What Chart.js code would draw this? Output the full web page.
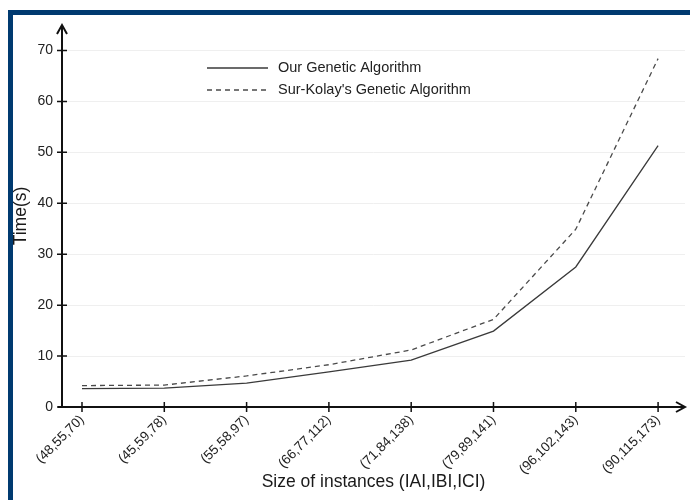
<!DOCTYPE html>
<html>
<head>
<meta charset="utf-8">
<script src="https://cdn.jsdelivr.net/npm/chart.js@4.4.0/dist/chart.umd.min.js"></script>
<style>
  html, body { margin: 0; padding: 0; background: #fff; }
  #wrap { position: relative; width: 690px; height: 500px; }
  #frame {
    position: absolute; left: 8px; top: 10px; right: 0; bottom: 0;
    border-left: 5px solid #003a70; border-top: 5px solid #003a70;
    pointer-events: none;
  }
</style>
</head>
<body>
<div id="wrap">
  <canvas id="chart" width="690" height="500"></canvas>
  <div id="frame"></div>
</div>
<script>
// instance sizes (|A|,|B|,|C|)
const instanceLabels = ['(48,55,70)', '(45,59,78)', '(55,58,97)', '(66,77,112)',
  '(71,84,138)', '(79,89,141)', '(96,102,143)', '(90,115,173)'];
const ourGA = [3.6, 3.7, 4.7, 6.9, 9.2, 14.9, 27.5, 51.3];
const surKolayGA = [4.2, 4.3, 6.1, 8.3, 11.2, 17.2, 34.9, 68.4];
const yTicks = [0, 10, 20, 30, 40, 50, 60, 70];

const textColor = '#222';
const FONT = 'Liberation Sans, Arial, Helvetica, sans-serif';

// axes with arrow heads and ticks crossing the axis
const axisArrows = {
  id: 'axisArrows',
  afterDatasetsDraw(chart) {
    const { ctx, chartArea, scales } = chart;
    const x0 = scales.x.getPixelForValue(scales.x.min);
    const y0 = scales.y.getPixelForValue(0);
    const xEnd = chartArea.right;
    const yTop = chartArea.top;
    ctx.save();
    ctx.strokeStyle = '#111';
    ctx.lineWidth = 2;
    ctx.beginPath();
    ctx.moveTo(x0, y0 + 1); ctx.lineTo(x0, yTop + 1);
    ctx.moveTo(x0 - 4, y0); ctx.lineTo(xEnd - 1, y0);
    ctx.stroke();
    // arrow heads
    ctx.beginPath();
    ctx.moveTo(x0 - 5, yTop + 9); ctx.lineTo(x0, yTop); ctx.lineTo(x0 + 5, yTop + 9);
    ctx.moveTo(xEnd - 9, y0 - 5); ctx.lineTo(xEnd, y0); ctx.lineTo(xEnd - 9, y0 + 5);
    ctx.stroke();
    // tick marks
    ctx.lineWidth = 1.5;
    ctx.beginPath();
    yTicks.forEach(v => {
      const py = scales.y.getPixelForValue(v);
      ctx.moveTo(x0 - 5, py); ctx.lineTo(x0 + 5, py);
    });
    instanceLabels.forEach((l, i) => {
      const px = scales.x.getPixelForValue(i);
      ctx.moveTo(px, y0 - 5); ctx.lineTo(px, y0 + 5);
    });
    ctx.stroke();
    ctx.restore();
  }
};

// legend inside the plot, line sample then text
const innerLegend = {
  id: 'innerLegend',
  afterDraw(chart) {
    const { ctx } = chart;
    ctx.save();
    ctx.font = '14.5px ' + FONT;
    ctx.textBaseline = 'middle';
    ctx.fillStyle = textColor;
    chart.data.datasets.forEach((ds, i) => {
      const y = 68 + i * 22;
      ctx.strokeStyle = ds.borderColor;
      ctx.lineWidth = ds.borderWidth;
      ctx.setLineDash(ds.borderDash || []);
      ctx.beginPath();
      ctx.moveTo(207, y); ctx.lineTo(268, y);
      ctx.stroke();
      ctx.setLineDash([]);
      ctx.fillText(ds.label, 278, y);
    });
    ctx.restore();
  }
};

new Chart(document.getElementById('chart'), {
  type: 'line',
  data: {
    datasets: [
      {
        label: 'Our Genetic Algorithm',
        data: ourGA.map((v, i) => ({ x: i, y: v })),
        borderColor: '#3a3a3a',
        borderWidth: 1.3,
        pointRadius: 0,
        tension: 0
      },
      {
        label: "Sur-Kolay's Genetic Algorithm",
        data: surKolayGA.map((v, i) => ({ x: i, y: v })),
        borderColor: '#4a4a4a',
        borderWidth: 1.3,
        borderDash: [5, 4],
        pointRadius: 0,
        tension: 0
      }
    ]
  },
  options: {
    responsive: false,
    animation: false,
    layout: { padding: { top: 25, right: 5, left: 0, bottom: 0 } },
    plugins: { legend: { display: false }, tooltip: { enabled: false } },
    scales: {
      x: {
        type: 'linear',
        min: -0.243,
        max: 7.327,
        afterBuildTicks: s => { s.ticks = instanceLabels.map((l, i) => ({ value: i })); },
        afterFit: s => { s.height = 93; },
        grid: { display: false, drawTicks: false },
        border: { display: false },
        ticks: {
          autoSkip: false,
          minRotation: 45,
          maxRotation: 45,
          padding: 5,
          color: textColor,
          font: { family: FONT, size: 13.5 },
          callback: v => instanceLabels[v]
        },
        title: {
          display: true,
          text: 'Size of instances (IAI,IBI,ICI)',
          color: '#1a1a1a',
          font: { family: FONT, size: 17.5 },
          padding: { top: 0, bottom: 7.5 }
        }
      },
      y: {
        min: 0,
        max: 75,
        afterBuildTicks: s => { s.ticks = yTicks.map(v => ({ value: v })); },
        afterFit: s => { s.width = 62; },
        grid: { color: '#efefef', lineWidth: 1, drawTicks: false },
        border: { display: false },
        ticks: {
          padding: 9,
          color: textColor,
          font: { family: FONT, size: 14 }
        },
        title: {
          display: true,
          text: 'Time(s)',
          color: '#1a1a1a',
          font: { family: FONT, size: 17.5 },
          padding: { top: 11, bottom: 0 }
        }
      }
    }
  },
  plugins: [axisArrows, innerLegend]
});
</script>
</body>
</html>
